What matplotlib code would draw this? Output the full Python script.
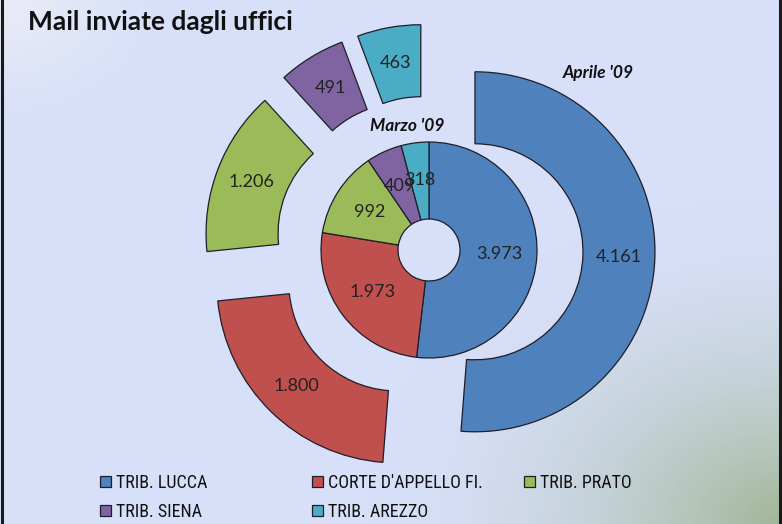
import numpy as np
import matplotlib
matplotlib.use("Agg")
import matplotlib.pyplot as plt
from matplotlib.lines import Line2D
from matplotlib.legend import Legend
from matplotlib import font_manager

# ---- data ----
categories = ["TRIB. LUCCA", "CORTE D'APPELLO FI.", "TRIB. PRATO", "TRIB. SIENA", "TRIB. AREZZO"]
marzo_09 = [3973, 1973, 992, 409, 318]
aprile_09 = [4161, 1800, 1206, 491, 463]
series_names = ["Marzo '09", "Aprile '09"]
title = "Mail inviate dagli uffici"
colors = ["#4F81BD", "#C0504D", "#9BBB59", "#8064A2", "#4BACC6"]

W, H = 782, 524
fig = plt.figure(figsize=(W / 100, H / 100), dpi=100)
ax = fig.add_axes([0, 0, 1, 1])

# background gradient
yy, xx = np.mgrid[0:H, 0:W]
base = np.array([216, 224, 249]) / 255.0
green = np.array([160, 182, 150]) / 255.0
light = np.array([234, 236, 246]) / 255.0
d = np.sqrt(((W - xx) / 420.0) ** 2 + ((H - yy) / 330.0) ** 2)
w = np.clip(1 - d, 0, 1) ** 1.8
d2 = np.sqrt((xx / 160.0) ** 2 + (yy / 120.0) ** 2)
w2 = np.clip(1 - d2, 0, 1)
img = base[None, None, :] * (1 - w[..., None]) + green[None, None, :] * w[..., None]
img = img * (1 - w2[..., None]) + light[None, None, :] * w2[..., None]
ax.imshow(img, extent=(0, W, 0, H), origin="upper", zorder=0, interpolation="bilinear")

cx, cy = 429, H - 250
R_out, R_in, R_hole = 180, 108, 31
explode_d = 46

def fmt_val(vals):
    tot = sum(vals)
    def f(p):
        v = int(round(p * tot / 100.0))
        return f"{v:,}".replace(",", ".")
    return f

edge = dict(edgecolor="#1e1e28", linewidth=0.9)
lab_font = dict(family=["Lato", "DejaVu Sans"], fontsize=13, color="#222222")

inner_wedges, _, _ = ax.pie(marzo_09, colors=colors, radius=R_in, center=(cx, cy),
                            startangle=90, counterclock=False,
                            wedgeprops=dict(width=R_in - R_hole, **edge),
                            autopct=fmt_val(marzo_09), pctdistance=0.65,
                            textprops=lab_font)
outer_wedges, _, _ = ax.pie(aprile_09, colors=colors, radius=R_out, center=(cx, cy),
                            startangle=90, counterclock=False,
                            explode=[explode_d] * len(aprile_09),
                            wedgeprops=dict(width=R_out - R_in, **edge),
                            autopct=fmt_val(aprile_09), pctdistance=0.8,
                            textprops=lab_font)

ax.set_xlim(0, W)
ax.set_ylim(0, H)
ax.set_aspect("auto")
ax.axis("off")

# series names
sfont = dict(family=["Lato", "DejaVu Sans"], fontsize=12.5, fontweight="bold",
             fontstyle="italic", color="#111111", ha="center", va="center")
ax.text(407, H - 126, series_names[0], **sfont)
ax.text(598, H - 73, series_names[1], **sfont)

# title
ax.text(28, H - 22, title, family=["Lato", "DejaVu Sans"], fontsize=19,
        fontweight="bold", color="#111111", ha="left", va="center")

# legend font: pick a narrow family if available
installed = {f.name for f in font_manager.fontManager.ttflist}
narrow = None
for cand in ["Liberation Sans Narrow", "DejaVu Sans Condensed", "Roboto Condensed",
             "Open Sans Condensed", "Roboto"]:
    if cand in installed:
        narrow = cand
        break
if narrow in ("Liberation Sans Narrow", "Roboto Condensed", "Open Sans Condensed"):
    leg_font = dict(family=narrow, size=13)
elif narrow == "DejaVu Sans Condensed":
    leg_font = dict(family=narrow, size=12)
else:
    leg_font = dict(family=["Roboto", "DejaVu Sans"], size=12.2)

col_x = [100, 312, 524]
groups = [[0, 3], [1, 4], [2]]
for gx, idxs in zip(col_x, groups):
    leg = Legend(ax, [inner_wedges[i] for i in idxs], [categories[i] for i in idxs],
                 loc="upper left", bbox_to_anchor=(gx, H - 474),
                 bbox_transform=ax.transData, frameon=False, prop=leg_font,
                 borderpad=0, borderaxespad=0, handlelength=0.6, handleheight=0.6,
                 handletextpad=0.3, labelspacing=0.6)
    for t in leg.get_texts():
        t.set_color("#111111")
    ax.add_artist(leg)

# border lines
for x in (1.5, 780.0):
    fig.add_artist(Line2D([x / W, x / W], [0, 1], transform=fig.transFigure,
                          color="#1a1a1a", lw=2.2))

fig.savefig("out.png", dpi=100)
